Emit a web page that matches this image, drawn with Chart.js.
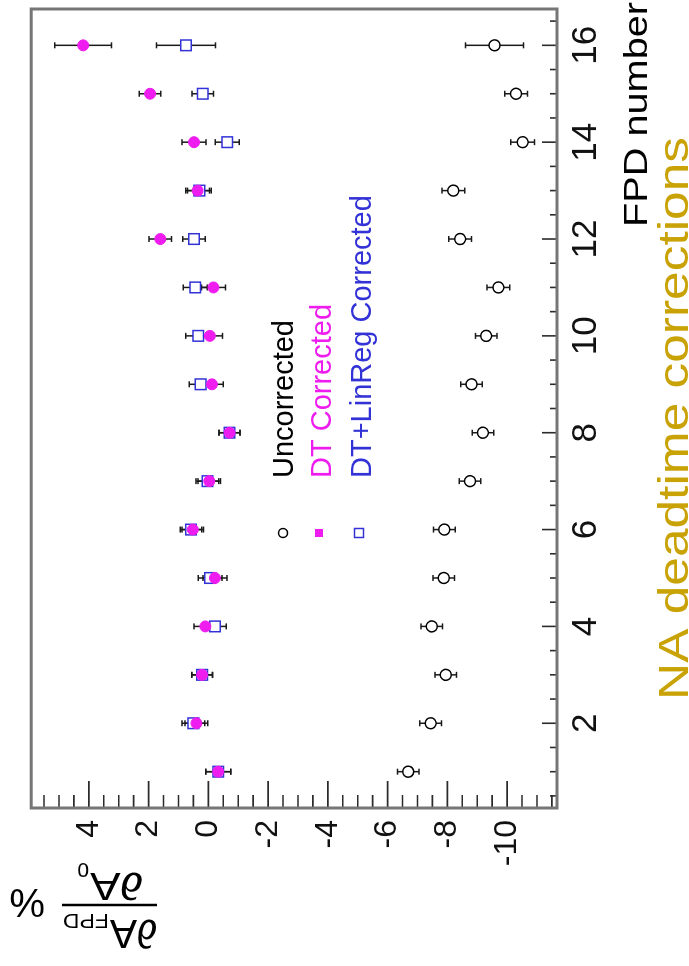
<!DOCTYPE html>
<html lang="en">
<head>
<meta charset="UTF-8">
<title>NA deadtime corrections</title>
<script src="https://cdn.jsdelivr.net/npm/chart.js"></script>
<style>
    html, body { margin: 0; padding: 0; background: #fff; }
    body { width: 689px; height: 966px; overflow: hidden; position: relative; }
    /* the figure is drawn landscape and then turned a quarter turn, like the original */
    #turn {
        position: absolute; left: 0; top: 0;
        width: 966px; height: 689px;
        transform-origin: 0 0;
        transform: translate(0, 966px) rotate(-90deg);
    }
</style>
</head>
<body>
<div id="turn"><canvas id="fpdChart" width="966" height="689"></canvas></div>

<script>
const fpd = [1, 2, 3, 4, 5, 6, 7, 8, 9, 10, 11, 12, 13, 14, 15, 16];

const uncorrected    = [-6.69, -7.44, -7.95, -7.48, -7.88, -7.90, -8.76, -9.19, -8.81, -9.30, -9.71, -8.43, -8.20, -10.52, -10.30, -9.58];
const uncorrectedErr = [0.36, 0.36, 0.36, 0.36, 0.36, 0.36, 0.36, 0.36, 0.36, 0.36, 0.38, 0.38, 0.38, 0.40, 0.38, 0.97];

const dtCorrected    = [-0.33, 0.40, 0.21, 0.10, -0.22, 0.52, -0.03, -0.71, -0.12, -0.05, -0.17, 1.61, 0.36, 0.48, 1.95, 4.19];
const dtCorrectedErr = [0.42, 0.38, 0.35, 0.38, 0.40, 0.36, 0.38, 0.35, 0.38, 0.42, 0.40, 0.38, 0.40, 0.40, 0.36, 0.95];

const linRegCorrected = [-0.33, 0.50, 0.21, -0.22, -0.06, 0.58, 0.03, -0.71, 0.26, 0.34, 0.44, 0.48, 0.30, -0.63, 0.19, 0.75];
const linRegErr       = [0.42, 0.38, 0.35, 0.38, 0.40, 0.36, 0.38, 0.35, 0.38, 0.42, 0.40, 0.38, 0.40, 0.40, 0.36, 0.99];

const xTickLabels = [2, 4, 6, 8, 10, 12, 14, 16];
const yTickLabels = [4, 2, 0, -2, -4, -6, -8, -10];

const FONT = "'Liberation Sans', Arial, Helvetica, sans-serif";
const MAGENTA = '#ee1cee';
const BLUE = '#3232d6';
const GOLD = '#c9a206';

function points(vals) {
    return fpd.map((f, i) => ({ x: f, y: vals[i] }));
}

// text drawn squeezed/widened to the width it has in the figure
function fitText(ctx, text, x, y, width, align) {
    const w = ctx.measureText(text).width;
    ctx.save();
    ctx.translate(x, y);
    ctx.scale(width / w, 1);
    ctx.textAlign = align;
    ctx.fillText(text, 0, 0);
    ctx.restore();
}

const errorBars = {
    id: 'errorBars',
    beforeDatasetsDraw(chart) {
        const ctx = chart.ctx;
        const xs = chart.scales.x, ys = chart.scales.y;
        ctx.save();
        ctx.strokeStyle = '#1a1a1a';
        ctx.lineWidth = 1.5;
        chart.data.datasets.forEach(ds => {
            ds.data.forEach((p, i) => {
                const px = xs.getPixelForValue(p.x);
                const hi = ys.getPixelForValue(p.y + ds.err[i]);
                const lo = ys.getPixelForValue(p.y - ds.err[i]);
                ctx.beginPath();
                ctx.moveTo(px, hi); ctx.lineTo(px, lo);
                ctx.moveTo(px - 3, hi); ctx.lineTo(px + 3, hi);
                ctx.moveTo(px - 3, lo); ctx.lineTo(px + 3, lo);
                ctx.stroke();
            });
        });
        ctx.restore();
    }
};

const frame = {
    id: 'frame',
    afterDraw(chart) {
        const { ctx, chartArea: a } = chart;
        const xs = chart.scales.x, ys = chart.scales.y;
        ctx.save();
        ctx.strokeStyle = '#2b2b2b';
        ctx.lineWidth = 1.6;
        ctx.beginPath();
        for (let v = 0.5; v <= 16.5; v += 0.5) {
            const px = xs.getPixelForValue(v);
            const len = v % 2 === 0 ? 15 : 7;
            ctx.moveTo(px, a.bottom); ctx.lineTo(px, a.bottom - len);
        }
        for (let v = -11.5; v <= 5.5; v += 0.5) {
            const py = ys.getPixelForValue(v);
            const len = v % 2 === 0 ? 27 : 13;
            ctx.moveTo(a.left, py); ctx.lineTo(a.left + len, py);
        }
        ctx.stroke();
        ctx.strokeStyle = '#767676';
        ctx.lineWidth = 3;
        ctx.strokeRect(a.left, a.top, a.right - a.left, a.bottom - a.top);
        ctx.restore();
    }
};

const labels = {
    id: 'labels',
    afterDraw(chart) {
        const ctx = chart.ctx;
        ctx.save();
        ctx.textBaseline = 'alphabetic';

        // legend
        ctx.lineWidth = 1.5;
        ctx.strokeStyle = '#000';
        ctx.fillStyle = '#fff';
        ctx.beginPath();
        ctx.arc(433, 283, 4.5, 0, Math.PI * 2);
        ctx.fill(); ctx.stroke();
        ctx.fillStyle = MAGENTA;
        ctx.fillRect(429, 315, 8, 8);
        ctx.strokeStyle = BLUE;
        ctx.strokeRect(428.5, 354.5, 9, 9);

        ctx.font = '29px ' + FONT;
        ctx.textAlign = 'left';
        ctx.fillStyle = '#000';
        ctx.fillText('Uncorrected', 488, 293);
        ctx.fillStyle = MAGENTA;
        ctx.fillText('DT Corrected', 488, 331);
        ctx.fillStyle = BLUE;
        ctx.fillText('DT+LinReg Corrected', 488, 371);

        // x title and caption
        ctx.fillStyle = '#000';
        ctx.font = '33px ' + FONT;
        fitText(ctx, 'FPD number', 964, 647, 225, 'right');
        ctx.fillStyle = GOLD;
        ctx.font = '43px ' + FONT;
        fitText(ctx, 'NA deadtime corrections', 266, 688, 563, 'left');

        // y title: dA_FPD / dA_0 %
        ctx.translate(61, 157);
        ctx.rotate(-Math.PI / 2);
        ctx.fillStyle = '#000';
        ctx.textAlign = 'left';
        ctx.font = '40px ' + FONT;
        fitText(ctx, '∂A', 0, -15, 47, 'left');
        ctx.font = '21px ' + FONT;
        fitText(ctx, 'FPD', 48, -9, 46, 'left');
        ctx.font = '38px ' + FONT;
        fitText(ctx, '∂A', 14, 32, 53, 'left');
        ctx.font = '21px ' + FONT;
        ctx.fillText('0', 68, 42);
        ctx.font = '40px ' + FONT;
        ctx.fillText('%', 112, 16);
        ctx.strokeStyle = '#000';
        ctx.lineWidth = 2.5;
        ctx.beginPath();
        ctx.moveTo(0, 0); ctx.lineTo(95, 0);
        ctx.stroke();
        ctx.restore();
    }
};

new Chart(document.getElementById('fpdChart'), {
    type: 'scatter',
    data: {
        datasets: [
            {
                label: 'DT+LinReg Corrected',
                data: points(linRegCorrected),
                err: linRegErr,
                pointStyle: 'rect',
                pointRadius: 7.5,
                borderColor: BLUE,
                backgroundColor: '#fff',
                borderWidth: 1.5,
                order: 2
            },
            {
                label: 'DT Corrected',
                data: points(dtCorrected),
                err: dtCorrectedErr,
                pointStyle: 'circle',
                pointRadius: 5.5,
                borderColor: MAGENTA,
                backgroundColor: MAGENTA,
                borderWidth: 1,
                order: 1
            },
            {
                label: 'Uncorrected',
                data: points(uncorrected),
                err: uncorrectedErr,
                pointStyle: 'circle',
                pointRadius: 5.5,
                borderColor: '#000',
                backgroundColor: '#fff',
                borderWidth: 1.5,
                order: 0
            }
        ]
    },
    options: {
        responsive: false,
        animation: false,
        devicePixelRatio: 1,
        layout: { padding: { top: 13, right: 5, left: 0, bottom: 0 } },
        plugins: {
            legend: { display: false },
            tooltip: { enabled: false }
        },
        scales: {
            x: {
                type: 'linear',
                min: 0.25,
                max: 16.75,
                afterBuildTicks: s => { s.ticks = xTickLabels.map(v => ({ value: v })); },
                afterFit: s => { s.height = 132; },
                grid: { display: false, drawTicks: false },
                border: { display: false },
                ticks: {
                    font: { family: FONT, size: 35 },
                    color: '#111',
                    padding: 8,
                    maxRotation: 0,
                    autoSkip: false
                }
            },
            y: {
                type: 'linear',
                min: -11.67,
                max: 5.93,
                afterBuildTicks: s => { s.ticks = yTickLabels.map(v => ({ value: v })); },
                afterFit: s => { s.width = 158; },
                grid: { display: false, drawTicks: false },
                border: { display: false },
                ticks: {
                    font: { family: FONT, size: 32 },
                    color: '#111',
                    padding: 12,
                    autoSkip: false
                }
            }
        }
    },
    plugins: [errorBars, frame, labels]
});
</script>
</body>
</html>
